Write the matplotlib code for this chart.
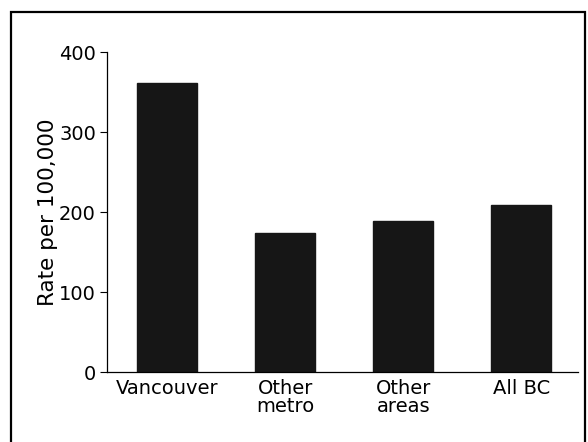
import matplotlib
matplotlib.use("Agg")
import matplotlib.pyplot as plt
from matplotlib.patches import Rectangle

# data
regions = ["Vancouver", "Other\nmetro", "Other\nareas", "All BC"]
rates = [361, 174, 189, 209]
y_ticks = [0, 100, 200, 300, 400]

plt.rcParams['font.family'] = ['DejaVu Sans']

fig = plt.figure(figsize=(5.88, 4.42), dpi=100)
ax = fig.add_axes([0.182, 0.158, 0.801, 0.724])

x = range(len(regions))
ax.bar(x, rates, width=0.51, color='#161616', edgecolor='#161616')

ax.set_xlim(-0.51, 3.48)
ax.set_ylim(0, 400)
ax.set_yticks(y_ticks)
ax.set_xticks(list(x))
ax.set_xticklabels(regions, fontsize=14, linespacing=0.9)
ax.tick_params(axis='y', labelsize=14, length=5, width=0.8, pad=3)
ax.tick_params(axis='x', length=0, pad=5)
ax.set_ylabel('Rate per 100,000', fontsize=15.5, labelpad=1)

for side in ['top', 'right']:
    ax.spines[side].set_visible(False)
for side in ['left', 'bottom']:
    ax.spines[side].set_linewidth(0.9)

# frame around the whole chart (bottom edge runs off the scan)
fig.patches.append(Rectangle((0.0187, -0.02), 0.976, 0.993,
                             transform=fig.transFigure, fill=False,
                             edgecolor='black', linewidth=1.6))

fig.savefig('out.png', dpi=100)
